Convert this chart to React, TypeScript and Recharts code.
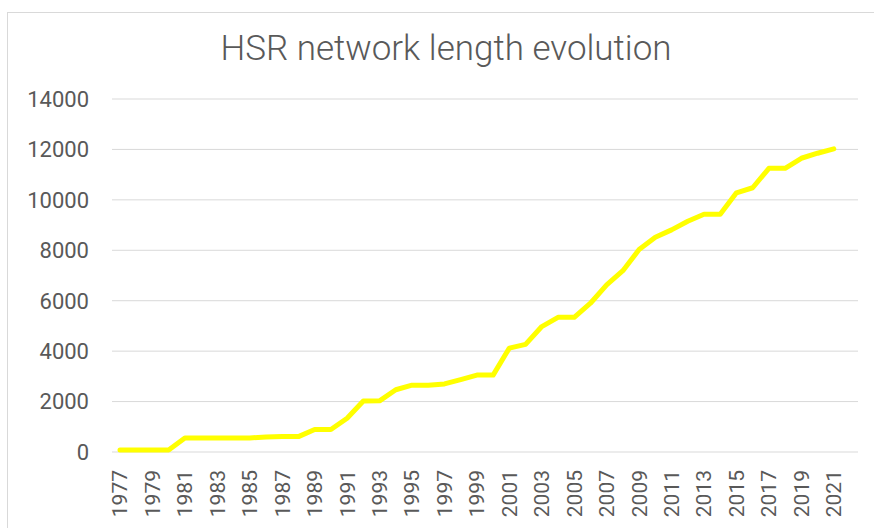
import React from 'react';
import { LineChart, Line, XAxis, YAxis, CartesianGrid } from 'recharts';

const years: string[] = [
  '1977', '1978', '1979', '1980', '1981', '1982', '1983', '1984', '1985', '1986',
  '1987', '1988', '1989', '1990', '1991', '1992', '1993', '1994', '1995', '1996',
  '1997', '1998', '1999', '2000', '2001', '2002', '2003', '2004', '2005', '2006',
  '2007', '2008', '2009', '2010', '2011', '2012', '2013', '2014', '2015', '2016',
  '2017', '2018', '2019', '2020', '2021', '2022',
];

const networkLength: (number | null)[] = [
  80, 80, 80, 80, 555, 555, 555, 555, 555, 595,
  610, 610, 890, 890, 1340, 2020, 2030, 2470, 2650, 2650,
  2700, 2870, 3050, 3050, 4120, 4270, 4975, 5340, 5340, 5900,
  6630, 7190, 8030, 8520, 8810, 9150, 9430, 9430, 10280, 10480,
  11250, 11250, 11650, 11850, 12020, null,
];

const yTicks: number[] = [0, 2000, 4000, 6000, 8000, 10000, 12000, 14000];

const title = 'HSR network length evolution';

const data = years.map((year, i) => ({ year, value: networkLength[i] }));

const FONT = 'Roboto, "Open Sans", sans-serif';
const TEXT_COLOR = '#595959';

const XTick = (props: any) => {
  const { x, y, payload } = props;
  return (
    <text
      x={x}
      y={y}
      transform={`rotate(-90 ${x} ${y})`}
      textAnchor="end"
      dy="0.355em"
      fill={TEXT_COLOR}
      fontSize={21}
      fontFamily={FONT}
    >
      {payload.value}
    </text>
  );
};

export default function App() {
  return (
    <div
      style={{
        position: 'fixed',
        left: 0,
        top: 0,
        width: 874,
        height: 528,
        overflow: 'hidden',
        background: '#ffffff',
      }}
    >
      <div
        style={{
          position: 'absolute',
          left: 7,
          top: 12,
          width: 900,
          height: 600,
          border: '1px solid #d9d9d9',
          boxSizing: 'border-box',
        }}
      />
      <div
        style={{
          position: 'absolute',
          left: 0,
          top: 28,
          width: 892,
          textAlign: 'center',
          fontFamily: FONT,
          fontSize: 35,
          fontWeight: 300,
          color: TEXT_COLOR,
          lineHeight: 'normal',
          whiteSpace: 'nowrap',
        }}
      >
        {title}
      </div>
      <div style={{ position: 'absolute', left: 0, top: 0 }}>
        <LineChart
          width={874}
          height={528}
          data={data}
          margin={{ top: 99, right: 16, bottom: 16, left: 12 }}
        >
          <CartesianGrid vertical={false} stroke="#d9d9d9" strokeWidth={1} />
          <XAxis
            dataKey="year"
            interval={1}
            axisLine={false}
            tickLine={false}
            tickSize={0}
            tickMargin={18}
            height={60}
            padding={{ left: 8, right: 8 }}
            tick={<XTick />}
          />
          <YAxis
            domain={[0, 14000]}
            ticks={yTicks}
            width={100}
            axisLine={false}
            tickLine={false}
            tickSize={0}
            tickMargin={23}
            interval={0}
            tick={{ fill: TEXT_COLOR, fontSize: 22, fontFamily: FONT }}
          />
          <Line
            type="linear"
            dataKey="value"
            stroke="#ffff00"
            strokeWidth={5}
            strokeLinecap="round"
            strokeLinejoin="round"
            dot={false}
            activeDot={false}
            connectNulls={false}
            isAnimationActive={false}
          />
        </LineChart>
      </div>
    </div>
  );
}
